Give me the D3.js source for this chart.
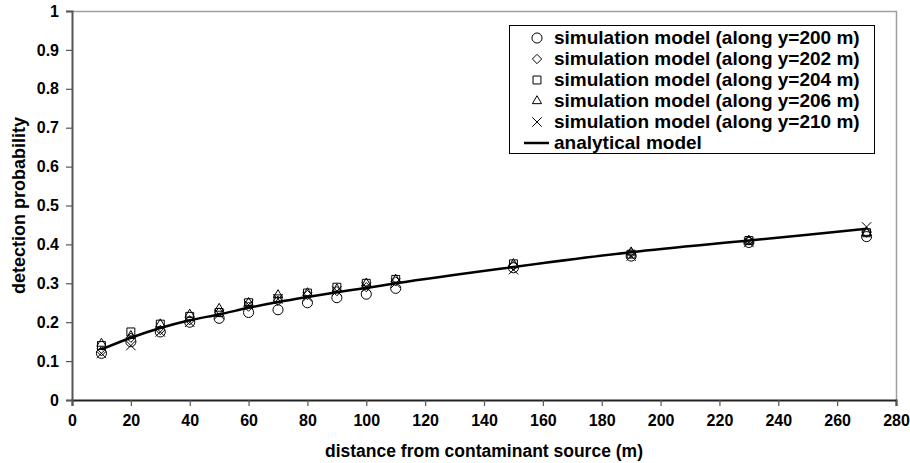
<!DOCTYPE html>
<html><head><meta charset="utf-8">
<script src="https://cdn.jsdelivr.net/npm/d3@7"></script>
<style>body{margin:0;background:#fff}svg{display:block}text{font-family:"Liberation Sans",Arial,sans-serif;font-weight:bold}</style>
</head><body><svg id="c" width="910" height="463"></svg>
<script>
const distances = [10,20,30,40,50,60,70,80,90,100,110,150,190,230,270];
const sim200 = [0.120,0.150,0.175,0.200,0.210,0.225,0.232,0.250,0.263,0.272,0.287,0.340,0.370,0.405,0.420];
const sim202 = [0.125,0.160,0.180,0.205,0.225,0.240,0.255,0.270,0.280,0.290,0.305,0.345,0.378,0.410,0.430];
const sim204 = [0.140,0.175,0.195,0.215,0.225,0.250,0.260,0.275,0.290,0.300,0.310,0.350,0.375,0.410,0.430];
const sim206 = [0.145,0.165,0.195,0.220,0.235,0.250,0.270,0.275,0.285,0.300,0.310,0.350,0.380,0.410,0.430];
const sim210 = [0.120,0.140,0.175,0.200,0.220,0.245,0.260,0.265,0.280,0.290,0.300,0.335,0.370,0.405,0.445];
const analytical = [0.130,0.160,0.185,0.205,0.220,0.237,0.252,0.265,0.277,0.288,0.300,0.342,0.380,0.410,0.440];
const xTicks = d3.range(0,281,20);
const yTicks = [0,0.1,0.2,0.3,0.4,0.5,0.6,0.7,0.8,0.9,1];
const seriesNames = ["simulation model (along y=200 m)","simulation model (along y=202 m)","simulation model (along y=204 m)","simulation model (along y=206 m)","simulation model (along y=210 m)","analytical model"];

const svg = d3.select("#c");
const L=72,R=896,T=11,B=400;
const x = d3.scaleLinear().domain([0,280]).range([L,R]);
const y = d3.scaleLinear().domain([0,1]).range([B,T]);

svg.append("path").attr("d",`M${L},${T+0.5}H${R+0.5}V${B}`).attr("fill","none").attr("stroke","#a0a0a0").attr("stroke-width",1.5);

const xa = svg.append("g").attr("transform",`translate(0,${B})`)
  .call(d3.axisBottom(x).tickValues(xTicks).tickSize(6).tickPadding(9).tickFormat(d3.format("d")));
const ya = svg.append("g").attr("transform",`translate(${L},0)`)
  .call(d3.axisLeft(y).tickValues(yTicks).tickSize(6).tickPadding(7).tickFormat(d=>d===0?"0":d===1?"1":d3.format(".1f")(d)));
[xa,ya].forEach(a=>{a.select(".domain").attr("stroke","#555").attr("stroke-width",2);
  a.selectAll(".tick line").attr("stroke","#555").attr("stroke-width",1.2);
  a.selectAll("text").attr("font-size",16).attr("fill","#000").style("font-family","'Liberation Sans',Arial,sans-serif");});
xa.select(".domain").attr("stroke","#222");

svg.append("text").attr("x",484).attr("y",457).attr("text-anchor","middle").attr("font-size",17.5).text("distance from contaminant source (m)");
svg.append("text").attr("transform",`translate(25,${(T+B)/2}) rotate(-90)`).attr("text-anchor","middle").attr("font-size",18).text("detection probability");

const sym = [
  d3.symbol().type(d3.symbolCircle).size(80),
  d3.symbol().type(d3.symbolDiamond2).size(55),
  d3.symbol().type(d3.symbolSquare2).size(80),
  d3.symbol().type(d3.symbolTriangle2).size(60),
  d3.symbol().type(d3.symbolX).size(60)
];
const sims=[sim200,sim202,sim204,sim206,sim210];

svg.append("path").datum(distances.map((d,i)=>[d,analytical[i]]))
  .attr("d",d3.line().x(d=>x(d[0])).y(d=>y(d[1])).curve(d3.curveMonotoneX))
  .attr("fill","none").attr("stroke","#000").attr("stroke-width",2.5);

sims.forEach((s,k)=>{
  svg.append("g").selectAll("path").data(distances.map((d,i)=>[d,s[i]])).join("path")
    .attr("transform",d=>`translate(${x(d[0])},${y(d[1])})`)
    .attr("d",sym[k]()).attr("fill","none").attr("stroke","#000").attr("stroke-width",1);
});

const lg = svg.append("g");
lg.append("rect").attr("x",509.5).attr("y",25.5).attr("width",365).attr("height",128).attr("fill","#fff").attr("stroke","#000").attr("stroke-width",1);
seriesNames.forEach((n,i)=>{
  const yy = 38+i*21;
  if(i<5) lg.append("path").attr("transform",`translate(537,${yy})`).attr("d",sym[i]()).attr("fill","none").attr("stroke","#000");
  else lg.append("line").attr("x1",524).attr("x2",549).attr("y1",yy).attr("y2",yy).attr("stroke","#000").attr("stroke-width",2.5);
  lg.append("text").attr("x",554).attr("y",yy+6).attr("font-size",19).text(n);
});
</script></body></html>
